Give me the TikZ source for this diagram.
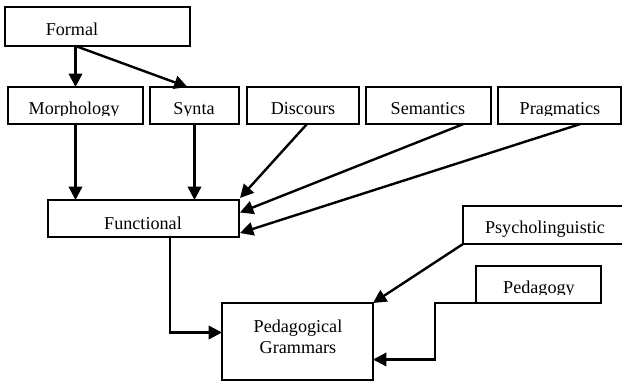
\documentclass[tikz,border=0pt]{standalone}
\usepackage{fontspec}
\setmainfont{Liberation Serif}
\usetikzlibrary{arrows.meta,calc}

\tikzset{every picture/.style={line width=0.75pt}}
\tikzset{
  box/.style n args={2}{draw, line width=1.5, minimum width=#1*0.75pt, minimum height=#2*0.75pt, inner sep=0pt, outer sep=0pt},
  lbl/.style={inner sep=0pt, anchor=base, font=\fontsize{13.6}{15.5}\selectfont},
  arr/.style={line width=1.8, -{Triangle[length=10pt,width=10pt]}},
  seg/.style={line width=1.8}
}

\begin{document}
\begin{tikzpicture}[x=0.75pt,y=0.75pt,yscale=-1,xscale=1]
\useasboundingbox (0,0) rectangle (622,383);

%Shape: Rectangle [formal]
\node[box={185}{39}] (formal) at (97.5,26.5) {};
%Shape: Rectangle [top row]
\node[box={135}{37}] (morph) at (75.5,105.5) {};
\node[box={89}{37}] (synta) at (194.5,105.5) {};
\node[box={112}{37}] (discours) at (303,105.5) {};
\node[box={125}{37}] (semantics) at (428.5,105.5) {};
\node[box={123}{37}] (pragmatics) at (559.5,105.5) {};
%Shape: Rectangle [functional]
\node[box={191}{37}] (functional) at (143.5,218.5) {};
%Shape: Rectangle [psycho, pedagogy]
\node[box={177}{38}] (psycho) at (551.5,225) {};
\node[box={125}{37}] (pedagogy) at (538.5,284.5) {};
%Shape: Rectangle [pedagogical grammars]
\node[box={151}{77}] (pedgram) at (297.5,341.5) {};

% Text Node
\node[lbl] (t-formal) at (72,35) {Formal};
\begin{scope}
\clip (0,0) rectangle (622,115.5);
\node[lbl] (t-morph) at (74,114.5) {Morphology};
\node[lbl] (t-synta) at (194,114.5) {Synta};
\node[lbl] (t-discours) at (303,114.5) {Discours};
\node[lbl] (t-semantics) at (428,114.5) {Semantics};
\node[lbl] (t-pragmatics) at (560,114.5) {Pragmatics};
\end{scope}
\node[lbl] (t-functional) at (143,229) {Functional};
\node[lbl] (t-psycho) at (545,233) {Psycholinguistic};
\begin{scope}
\clip (440,260) rectangle (622,294);
\node[lbl] (t-pedagogy) at (539,293) {Pedagogy};
\end{scope}
\node[lbl] (t-pedgram1) at (298,332) {Pedagogical};
\node[lbl] (t-pedgram2) at (298,353) {Grammars};

%Straight Lines [formal out]
\draw[arr] (formal.south -| morph.north) -- (morph.north);
\draw[arr] (formal.south -| morph.north) -- ($(synta.north)+(-7,0)$);
%Straight Lines [into functional]
\draw[arr] (morph.south) -- (morph.south |- functional.north);
\draw[arr] (synta.south) -- (synta.south |- functional.north);
\draw[arr] ($(discours.south)+(4,0)$) -- ($(functional.north east)+(1,-2)$);
\draw[arr] ($(semantics.south west)!0.78!(semantics.south east)$) -- ($(functional.east)+(1,-6)$);
\draw[arr] ($(pragmatics.south west)!0.67!(pragmatics.south east)$) -- ($(functional.south east)+(1,-4)$);
%Straight Lines [into pedagogical grammars]
\draw[arr] ($(functional.south west)!0.64!(functional.south east)$) |- ($(pedgram.west)+(0,-9)$);
\draw[arr] (psycho.south west) -- (pedgram.north east);
\draw[seg] ($(pedagogy.south west)+(16,0)$) -- (pedagogy.south west);
\draw[arr] (pedagogy.south west) -- ++(-41,0) |- ($(pedgram.east)+(0,18)$);

\end{tikzpicture}
\end{document}
